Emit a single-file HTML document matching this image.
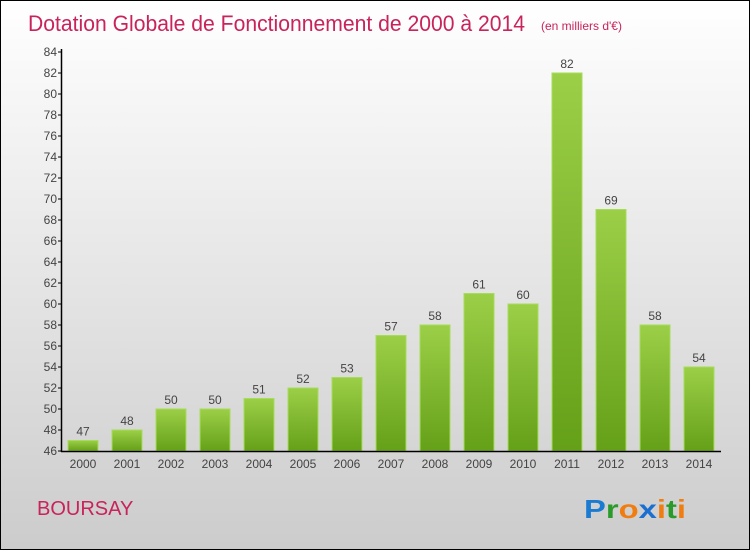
<!DOCTYPE html>
<html><head><meta charset="utf-8"><style>
body{margin:0;width:750px;height:550px;overflow:hidden;font-family:"Liberation Sans",sans-serif}
#c{position:absolute;left:0;top:0;width:748px;height:548px;border:1px solid #000;background:linear-gradient(#fff,#ccc)}
</style></head><body>
<div id="c">
<svg width="750" height="550" id="s">
<defs><linearGradient id="g" x1="0" y1="0" x2="0" y2="1"><stop offset="0" stop-color="#9ccf48"/><stop offset="1" stop-color="#65a019"/></linearGradient></defs>
<text x="27" y="30" font-size="22" fill="#c8235a" textLength="497" lengthAdjust="spacingAndGlyphs">Dotation Globale de Fonctionnement de 2000 à 2014</text>
<text x="540" y="29" font-size="12" fill="#c8235a">(en milliers d'€)</text>
<text x="36" y="514" font-size="20" fill="#c8235a">BOURSAY</text>
<text x="583" y="517" font-size="26" font-weight="bold" textLength="102" lengthAdjust="spacingAndGlyphs"><tspan fill="#1a7bd0">P</tspan><tspan fill="#2a9a2a">r</tspan><tspan fill="#f07d10">o</tspan><tspan fill="#1a6fd0">x</tspan><tspan fill="#f07d10">i</tspan><tspan fill="#2a9a2a">t</tspan><tspan fill="#f07d10">i</tspan></text>
<g id="plot"></g>
</svg></div>
<script>
const years=["2000","2001","2002","2003","2004","2005","2006","2007","2008","2009","2010","2011","2012","2013","2014"];
const values=[47,48,50,50,51,52,53,57,58,61,60,82,69,58,54];
const yTicks=[46,48,50,52,54,56,58,60,62,64,66,68,70,72,74,76,78,80,82,84];
const NS="http://www.w3.org/2000/svg",p=document.getElementById('plot');
const y=v=>450-(v-46)*(399/38), x=i=>82+i*44;
function mk(t,a){const e=document.createElementNS(NS,t);for(const k in a)e.setAttribute(k,a[k]);p.appendChild(e);return e;}
values.forEach((v,i)=>{
 const b=mk('rect',{x:x(i)-15,y:y(v),width:30,height:450-y(v),fill:'url(#g)',stroke:'#a6dc5a','stroke-width':1});
 
 
 const t=mk('text',{x:x(i),y:y(v)-5,'font-size':12,fill:'#444','text-anchor':'middle'});t.textContent=v;
 
 
 const l=mk('text',{x:x(i),y:467,'font-size':12,fill:'#444','text-anchor':'middle'});l.textContent=years[i];
 
 
});
yTicks.forEach(v=>{
 mk('line',{x1:57,x2:61,y1:y(v),y2:y(v),stroke:'#000'});
 const t=mk('text',{x:56,y:y(v)+4,'font-size':12,fill:'#444','text-anchor':'end'});t.textContent=v;
 
 
});
const ya=mk('line',{x1:60.5,x2:60.5,y1:48,y2:451,stroke:'#000','stroke-width':1.5});


const xa=mk('line',{x1:60,x2:720,y1:450.5,y2:450.5,stroke:'#000','stroke-width':1.5});


</script>
</body></html>
